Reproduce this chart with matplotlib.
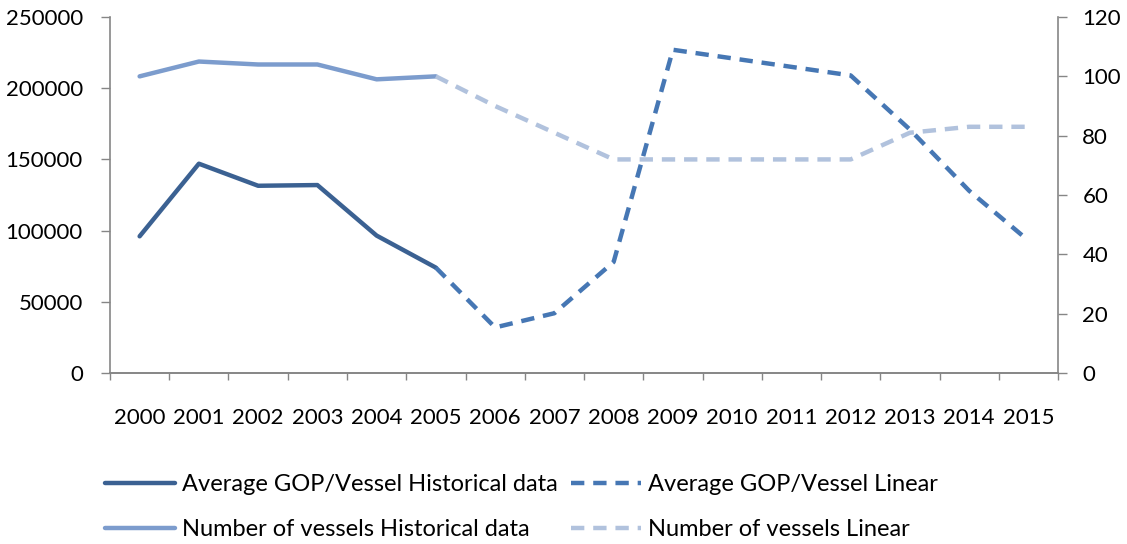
import matplotlib.pyplot as plt
import numpy as np

years = [str(y) for y in range(2000, 2016)]

# average GOP per vessel (left axis)
gop_hist = [96000, 147000, 131500, 132000, 96500, 74000]
gop_linear = [74000, 32000, 42000, 78000, 227000, 221000, 215000, 209000, 171000, 128000, 93000]

# number of vessels (right axis)
vessels_hist = [100, 105, 104, 104, 99, 100]
vessels_linear = [100, 90, 81, 72, 72, 72, 72, 72, 81, 83, 83]

plt.rcParams['font.family'] = ['Lato', 'DejaVu Sans']
fs = 16
grey = '#868686'

fig = plt.figure(figsize=(11.27, 5.44), dpi=100)
ax = fig.add_axes([0.0976, 0.3143, 0.8412, 0.6544])
ax2 = ax.twinx()
ax.set_zorder(ax2.get_zorder() + 1)
ax.patch.set_visible(False)

x = np.arange(len(years))
n_hist = len(gop_hist)
x_hist = x[:n_hist]
x_lin = x[n_hist - 1:]

l1, = ax.plot(x_hist, gop_hist, color='#3B6192', lw=3.2, solid_capstyle='round',
              label='Average GOP/Vessel Historical data')
l2, = ax.plot(x_lin, gop_linear, color='#4677B4', lw=3.2, linestyle=(0, (3, 2)),
              label='Average GOP/Vessel Linear')
l3, = ax2.plot(x_hist, vessels_hist, color='#7C9CCD', lw=3.2, solid_capstyle='round',
               label='Number of vessels Historical data')
l4, = ax2.plot(x_lin, vessels_linear, color='#B1C2DD', lw=3.2, linestyle=(0, (3, 2)),
               label='Number of vessels Linear')

ax.set_xlim(-0.5, len(years) - 0.5)
ax.set_ylim(0, 250000)
ax2.set_ylim(0, 120)
ax.set_yticks(np.arange(0, 250001, 50000))
ax2.set_yticks(np.arange(0, 121, 20))

# category boundaries get the tick marks, labels sit in the middle
ax.set_xticks(np.arange(-0.5, len(years)), labels=[''] * (len(years) + 1))
ax.set_xticks(x, labels=years, minor=True)
ax.tick_params(axis='x', which='major', length=5, width=1, color=grey)
ax.tick_params(axis='x', which='minor', length=0, pad=25, labelsize=fs)
ax.tick_params(axis='y', length=6.5, width=1, color=grey, pad=13, labelsize=fs)
ax2.tick_params(axis='y', length=6.5, width=1, color=grey, pad=11, labelsize=fs)

for a in (ax, ax2):
    a.spines['top'].set_visible(False)
    for s in ('left', 'right', 'bottom'):
        a.spines[s].set_color(grey)
        a.spines[s].set_linewidth(1.2)
ax.spines['right'].set_visible(False)
ax2.spines['left'].set_visible(False)

fig.legend([l1, l3, l2, l4], [l.get_label() for l in (l1, l3, l2, l4)],
           ncol=2, loc='center left', bbox_to_anchor=(0.0743, 0.068), frameon=False,
           fontsize=17, handlelength=2.96, handletextpad=0.3, columnspacing=0.55,
           labelspacing=1.02)

fig.savefig('out.png', dpi=100)
